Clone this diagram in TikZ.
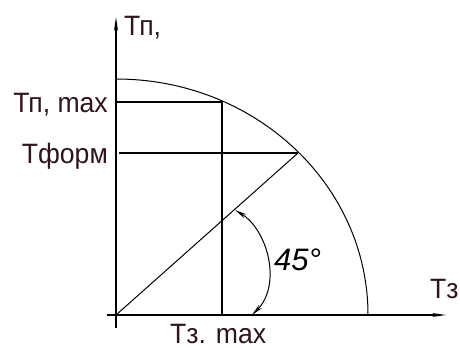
\documentclass[tikz,border=0pt]{standalone}
\usepackage{fontspec}
\setmainfont{Liberation Sans}
\newfontfamily\lblfont[FakeStretch=0.95]{Liberation Sans}
\usepackage{tikz}
\usetikzlibrary{positioning,arrows.meta,calc}
\definecolor{lblcol}{RGB}{45,20,30}
\tikzset{
  axln/.style={-{Stealth[length=14pt,width=4pt]},line width=1.3pt},
  gline/.style={line width=1.3pt},
  thinln/.style={line width=1pt},
  angarr/.style={{Stealth[open,length=12pt,width=4.5pt]}-{Stealth[open,length=12pt,width=4.5pt]},line width=1pt},
  lbl/.style={font=\lblfont\fontsize{28}{30}\selectfont,text=lblcol,inner sep=0pt},
  anglbl/.style={font=\itshape\fontsize{31}{33}\selectfont,inner sep=0pt},
}
\begin{document}
\begin{tikzpicture}[x=1pt,y=-1pt]
  \useasboundingbox (0,0) rectangle (460,349);
  % axes
  \coordinate (O) at (116,315);
  \coordinate (ybot) at (116,328);
  \coordinate (ytop) at (116,17);
  \coordinate (xlft) at (107,315);
  \coordinate (xrgt) at (446,315);
  \draw[axln] (ybot) -- (ytop);
  \draw[axln] (xlft) -- (xrgt);
  % quarter ellipse
  \coordinate (Atop) at (116,79);
  \draw[thinln] (Atop) arc[start angle=90,end angle=0,x radius=252pt,y radius=236pt];
  % max point and form point on the curve
  \coordinate (Pmax) at (222,102);
  \coordinate (Pmaxy) at (116,102);
  \coordinate (Pmaxx) at (222,315);
  \coordinate (Pf) at (298,153);
  \coordinate (Pfy) at (119,153);
  \draw[gline] (Pmaxy) -- (Pmax) -- (Pmaxx);
  \draw[gline] (Pfy) -- (Pf);
  \draw[thinln] (O) -- (Pf);
  % 45 degree mark
  \coordinate (a1) at (235,210);
  \coordinate (a2) at (252,315);
  \draw[angarr] (a1) .. controls (268,230) and (282,285) .. (a2);
  \node[anglbl,anchor=base west] (ang) at (274,270) {45°};
  % labels
  \node[lbl,anchor=base west] (tpy) at (124,35) {Тп,};
  \node[lbl,anchor=base east] (tpmax) at (108,112) {Тп, max};
  \node[lbl,anchor=base east] (tform) at (108,163) {Тформ};
  \node[lbl,anchor=base west] (tzx) at (430,298) {Тз};
  \node[lbl,anchor=base west] (tzmax) at (170,343) {Тз. max};
\end{tikzpicture}
\end{document}
